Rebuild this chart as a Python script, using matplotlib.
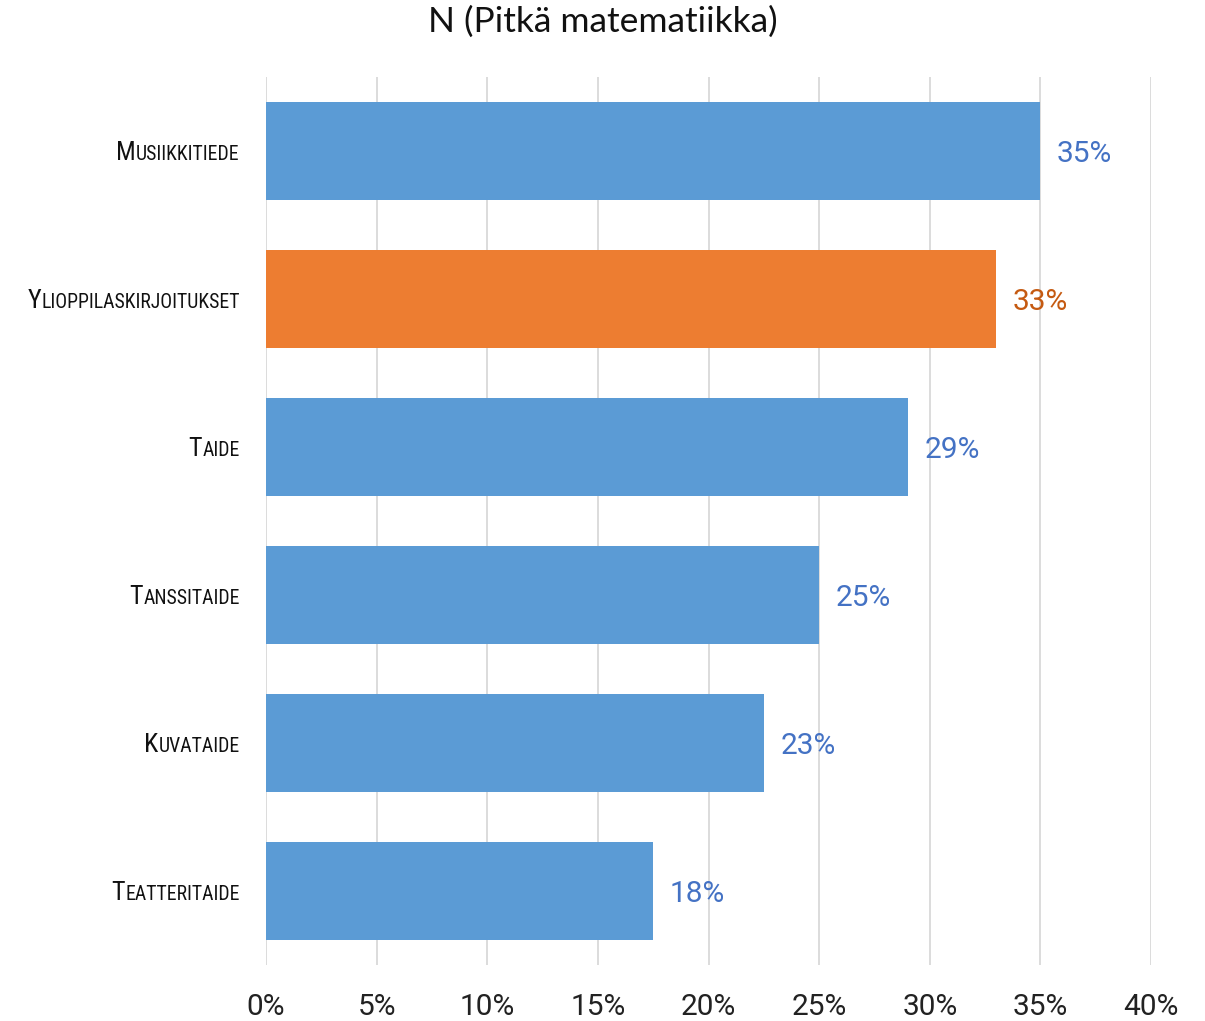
import matplotlib
matplotlib.use("Agg")
import matplotlib.pyplot as plt
from matplotlib.ticker import FuncFormatter

# ---- data ----
categories = ["Musiikkitiede", "Ylioppilaskirjoitukset", "Taide",
              "Tanssitaide", "Kuvataide", "Teatteritaide"]
values = [35.0, 33.0, 29.0, 25.0, 22.5, 17.5]
value_labels = ["35%", "33%", "29%", "25%", "23%", "18%"]
highlight = "Ylioppilaskirjoitukset"
title = "N (Pitkä matematiikka)"

BLUE = "#5B9BD5"
ORANGE = "#ED7D31"
BLUE_TXT = "#4472C4"
ORANGE_TXT = "#C55A11"

fig = plt.figure(figsize=(12.05, 10.21), dpi=100)
ax = fig.add_axes([266 / 1205, 1 - 965 / 1021, (1151 - 266) / 1205, (965 - 77) / 1021])

ypos = list(range(len(categories)))
colors = [ORANGE if c == highlight else BLUE for c in categories]
ax.barh(ypos, values, height=0.66, color=colors, zorder=3)

ax.set_xlim(0, 40)
ax.set_ylim(len(categories) - 0.5, -0.5)
ax.set_xticks(range(0, 41, 5))
ax.xaxis.set_major_formatter(FuncFormatter(lambda v, _: f"{v:.0f}%"))
ax.grid(axis="x", color="#D9D9D9", linewidth=1.3, zorder=0)
for s in ax.spines.values():
    s.set_visible(False)
ax.tick_params(axis="x", length=0, pad=20, labelsize=21.5)
ax.tick_params(axis="y", length=0, labelleft=False)
for t in ax.get_xticklabels():
    t.set_fontfamily(["Roboto", "DejaVu Sans"])
    t.set_color("#222222")

# value labels
for y, v, lab, c in zip(ypos, values, value_labels, categories):
    col = ORANGE_TXT if c == highlight else BLUE_TXT
    ax.annotate(lab, xy=(v, y), xytext=(12, -2), textcoords="offset points",
                va="center", ha="left", fontsize=21.5, color=col,
                family=["Roboto", "DejaVu Sans"])

# small caps style category labels
lab_font = ["Liberation Sans Narrow", "Roboto Condensed", "Roboto", "DejaVu Sans"]
trans = ax.get_yaxis_transform()
rest_texts = []
for y, c in zip(ypos, categories):
    t = ax.annotate(c[1:].upper(), xy=(0, y), xycoords=trans,
                    xytext=(-19, -6.5), textcoords="offset points",
                    ha="right", va="baseline", fontsize=14.2,
                    family=lab_font, color="#111111")
    rest_texts.append(t)
fig.canvas.draw()
renderer = fig.canvas.get_renderer()
for y, c, t in zip(ypos, categories, rest_texts):
    w = t.get_window_extent(renderer).width * 72 / fig.dpi
    ax.annotate(c[0], xy=(0, y), xycoords=trans,
                xytext=(-19 - w, -6.5), textcoords="offset points",
                ha="right", va="baseline", fontsize=18.8,
                family=lab_font, color="#111111")

fig.text(0.5, 1 - 22 / 1021, title, ha="center", va="center", fontsize=25.5,
         family=["Lato", "DejaVu Sans"], color="#111111")

fig.savefig("out.png", dpi=100)
